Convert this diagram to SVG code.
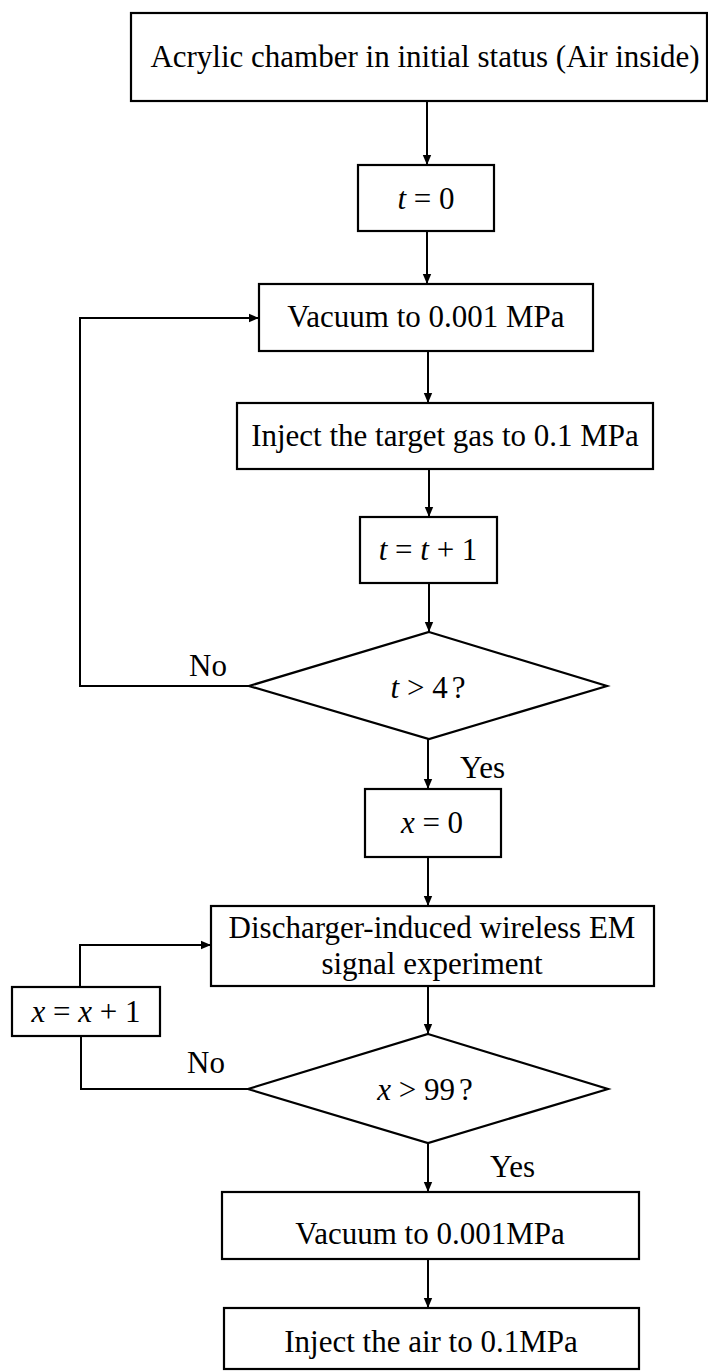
<svg xmlns="http://www.w3.org/2000/svg" width="708" height="1372" viewBox="0 0 708 1372">
<style>
.box{fill:#fff;stroke:#000;stroke-width:2.2}
.ln{fill:none;stroke:#000;stroke-width:2}
.tx{font-family:"Liberation Serif","Times New Roman",serif;font-size:31px;fill:#000;text-anchor:middle}
.lb{font-family:"Liberation Serif","Times New Roman",serif;font-size:31px;fill:#000}
.i{font-style:italic}
</style>
<defs>
<marker id="ah" markerUnits="userSpaceOnUse" markerWidth="10" markerHeight="10" refX="10" refY="5" orient="auto">
<path d="M0,0.8 L10,5 L0,9.2 z" fill="#000"/>
</marker>
</defs>
<rect width="708" height="1372" fill="#fff"/>
<g id="connectors">
<path class="ln" d="M427,101 V165" marker-end="url(#ah)"/>
<path class="ln" d="M427,231 V284" marker-end="url(#ah)"/>
<path class="ln" d="M428,351 V403" marker-end="url(#ah)"/>
<path class="ln" d="M429,469 V517" marker-end="url(#ah)"/>
<path class="ln" d="M429,583 V632" marker-end="url(#ah)"/>
<path class="ln" d="M249,686 H80 V318 H259" marker-end="url(#ah)"/>
<path class="ln" d="M428,739 V789" marker-end="url(#ah)"/>
<path class="ln" d="M428,857 V906" marker-end="url(#ah)"/>
<path class="ln" d="M428,986 V1034" marker-end="url(#ah)"/>
<path class="ln" d="M248,1089 H81 V1036"/>
<path class="ln" d="M80,987 V945 H211" marker-end="url(#ah)"/>
<path class="ln" d="M428,1143 V1192" marker-end="url(#ah)"/>
<path class="ln" d="M428,1259 V1308" marker-end="url(#ah)"/>
<text class="lb" x="189" y="676">No</text>
<text class="lb" x="460" y="778">Yes</text>
<text class="lb" x="187" y="1073">No</text>
<text class="lb" x="490" y="1177">Yes</text>
</g>
<g id="n1"><rect class="box" x="131" y="13" width="576" height="88"/><text class="tx" x="425" y="67">Acrylic chamber in initial status (Air inside)</text></g>
<g id="n2"><rect class="box" x="358" y="165" width="136" height="66"/><text class="tx" x="426" y="209"><tspan class="i">t</tspan> = 0</text></g>
<g id="n3"><rect class="box" x="259" y="284" width="334" height="67"/><text class="tx" x="426" y="327">Vacuum to 0.001 MPa</text></g>
<g id="n4"><rect class="box" x="237" y="403" width="416" height="66"/><text class="tx" x="445" y="446">Inject the target gas to 0.1 MPa</text></g>
<g id="n5"><rect class="box" x="360" y="517" width="137" height="66"/><text class="tx" x="428" y="560"><tspan class="i">t</tspan> = <tspan class="i">t</tspan> + 1</text></g>
<g id="n6"><polygon class="box" points="429,632 607,686 429,739 249,686"/><text class="tx" x="428" y="698"><tspan class="i">t</tspan> &gt; 4<tspan dx="4">?</tspan></text></g>
<g id="n7"><rect class="box" x="365" y="789" width="136" height="68"/><text class="tx" x="432" y="833"><tspan class="i">x</tspan> = 0</text></g>
<g id="n8"><rect class="box" x="211" y="906" width="443" height="80"/><text class="tx" x="432" y="938">Discharger-induced wireless EM</text><text class="tx" x="432" y="974">signal experiment</text></g>
<g id="n9"><rect class="box" x="12" y="987" width="148" height="49"/><text class="tx" x="86" y="1022"><tspan class="i">x</tspan> = <tspan class="i">x</tspan> + 1</text></g>
<g id="n10"><polygon class="box" points="428,1034 608,1089 428,1143 248,1089"/><text class="tx" x="425" y="1100"><tspan class="i">x</tspan> &gt; 99<tspan dx="4">?</tspan></text></g>
<g id="n11"><rect class="box" x="222" y="1192" width="417" height="67"/><text class="tx" x="430" y="1244">Vacuum to 0.001MPa</text></g>
<g id="n12"><rect class="box" x="224" y="1308" width="415" height="61"/><text class="tx" x="431" y="1352">Inject the air to 0.1MPa</text></g>
</svg>
